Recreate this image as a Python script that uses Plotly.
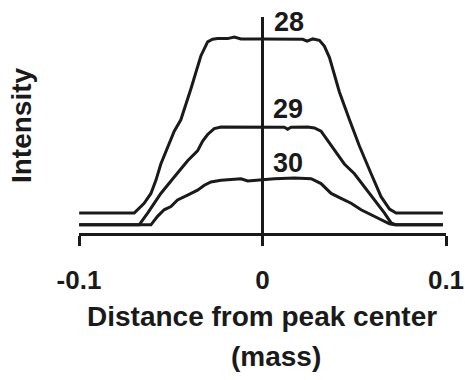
import plotly.graph_objects as go

# Distance from peak center (mass) and intensity (arbitrary units) for m/z 28, 29, 30
x28 = [-0.0999, -0.0699, -0.0645, -0.0608, -0.0581, -0.0554, -0.0481, -0.0445, -0.0390,
       -0.0336, -0.0299, -0.0272, -0.0245, -0.0190, -0.0154, -0.0117, -0.0008, 0.0174,
       0.0219, 0.0243, 0.0274, 0.0310, 0.0337, 0.0365, 0.0419, 0.0474, 0.0528, 0.0592,
       0.0646, 0.0692, 0.0728, 0.0983]
y28 = [8.41, 8.41, 13.00, 17.58, 23.70, 31.35, 46.64, 51.99, 66.51,
       81.80, 88.38, 89.60, 89.91, 89.91, 90.67, 89.76, 89.76, 89.76,
       89.60, 88.69, 89.76, 89.14, 86.39, 81.04, 64.98, 51.99, 39.76, 26.76,
       16.06, 10.24, 8.41, 8.41]

x29 = [-0.0999, -0.0672, -0.0626, -0.0554, -0.0481, -0.0408, -0.0354, -0.0326, -0.0299,
       -0.0263, -0.0226, -0.0081, 0.0065, 0.0119, 0.0137, 0.0155, 0.0246, 0.0283,
       0.0319, 0.0356, 0.0392, 0.0446, 0.0501, 0.0556, 0.0610, 0.0665, 0.0701, 0.0728,
       0.0983]
y29 = [2.91, 2.91, 8.41, 17.58, 25.23, 32.87, 37.46, 42.05, 45.11,
       47.86, 48.62, 48.47, 48.47, 48.47, 47.55, 48.47, 48.62, 48.17,
       46.64, 42.05, 37.46, 31.35, 26.76, 20.64, 14.53, 8.41, 3.82, 2.91,
       2.91]

x30 = [-0.0999, -0.0608, -0.0572, -0.0536, -0.0499, -0.0463, -0.0408, -0.0354, -0.0317,
       -0.0281, -0.0226, -0.0172, -0.0117, -0.0081, -0.0008, 0.0065, 0.0174, 0.0246,
       0.0265, 0.0319, 0.0374, 0.0428, 0.0483, 0.0537, 0.0592, 0.0646, 0.0692, 0.0719,
       0.0983]
y30 = [2.91, 2.91, 6.88, 9.94, 11.47, 14.53, 16.82, 19.11, 21.41,
       22.94, 23.70, 24.01, 24.46, 23.39, 24.01, 24.46, 24.77, 24.46,
       24.46, 22.17, 17.58, 15.29, 13.00, 9.94, 7.65, 5.35, 3.36, 2.91,
       2.91]

series_names = ["28", "29", "30"]
tick_vals = [-0.1, 0, 0.1]
tick_text = ["-0.1", "0", "0.1"]

FONT = "Liberation Sans, Arial, sans-serif"
INK = "#1a1a1a"
Y_MIN = -0.9

fig = go.Figure()
for xs, ys, name in [(x28, y28, "28"), (x29, y29, "29"), (x30, y30, "30")]:
    fig.add_trace(go.Scatter(x=xs, y=ys, mode="lines", name=name,
                             line=dict(color=INK, width=3), showlegend=False,
                             hoverinfo="skip"))

# vertical centre line
fig.add_shape(type="line", x0=0, x1=0, y0=Y_MIN, y1=100, xref="x", yref="y",
              line=dict(color=INK, width=3), layer="above")

label_pos = {"28": (0.0145, 97.5), "29": (0.0137, 57.0), "30": (0.0139, 31.7)}
for name in series_names:
    lx, ly = label_pos[name]
    fig.add_annotation(x=lx, y=ly, text=name, showarrow=False, xanchor="center",
                       yanchor="middle", font=dict(family=FONT, size=27, color=INK, weight="bold"))

fig.add_annotation(x=0.499, y=-0.385, xref="paper", yref="paper", text="Distance from peak center",
                   showarrow=False, xanchor="center", yanchor="middle",
                   font=dict(family=FONT, size=28, color=INK, weight="bold"))
fig.add_annotation(x=0.537, y=-0.571, xref="paper", yref="paper", text="(mass)",
                   showarrow=False, xanchor="center", yanchor="middle",
                   font=dict(family=FONT, size=28, color=INK, weight="bold"))
fig.add_annotation(x=-0.158, y=0.5, xref="paper", yref="paper", text="Intensity",
                   showarrow=False, xanchor="center", yanchor="middle", textangle=-90,
                   font=dict(family=FONT, size=28, color=INK, weight="bold"))

fig.update_layout(
    width=465, height=380,
    margin=dict(l=79, r=19, t=17, b=147, autoexpand=False),
    paper_bgcolor="white", plot_bgcolor="white",
    font=dict(family=FONT, color=INK),
    xaxis=dict(range=[-0.1, 0.1], tickvals=tick_vals, ticktext=tick_text,
               automargin=False,
               showline=True, linecolor=INK, linewidth=3,
               ticks="outside", ticklen=10, tickwidth=3, tickcolor=INK,
               ticklabelstandoff=12,
               showgrid=False, zeroline=False,
               tickfont=dict(family=FONT, size=26, color=INK, weight="bold")),
    yaxis=dict(range=[Y_MIN, 100], visible=False, showgrid=False, zeroline=False,
               automargin=False),
)

fig.write_html("out.html")
